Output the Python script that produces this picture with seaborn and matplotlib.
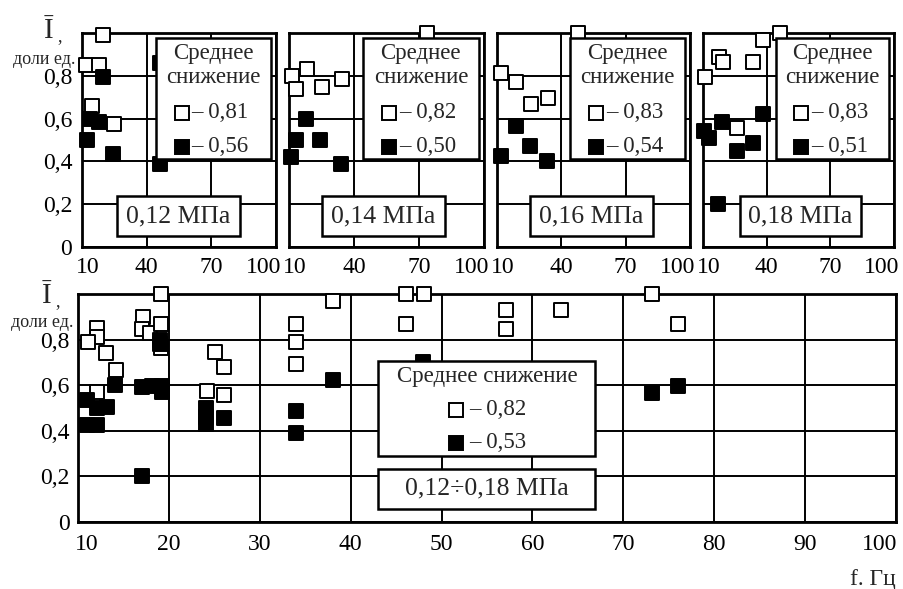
# Снижение Ī в зависимости от частоты f при разных давлениях
import matplotlib.pyplot as plt
import seaborn as sns
from matplotlib.patches import Rectangle
from matplotlib.transforms import ScaledTranslation

sns.set_theme(style="white")
plt.rcParams['font.family'] = ['Liberation Serif', 'DejaVu Serif']

# ---- данные (по панелям) ----
p12_open_x = [19.7, 11.9, 17.9, 14.7, 24.8]
p12_open_y = [0.99, 0.85, 0.85, 0.66, 0.575]
p12_fill_x = [19.6, 13.7, 17.9, 12.3, 24.5, 46.2, 46.2]
p12_fill_y = [0.795, 0.60, 0.585, 0.50, 0.435, 0.39, 0.86]

p14_open_x = [73.5, 11.5, 18.5, 13.2, 25.4, 34.5]
p14_open_y = [1.0, 0.80, 0.83, 0.74, 0.75, 0.785]
p14_fill_x = [17.8, 13.1, 24.3, 10.9, 34.0]
p14_fill_y = [0.60, 0.50, 0.50, 0.42, 0.39]

p16_open_x = [47.9, 11.9, 18.9, 25.7, 33.6]
p16_open_y = [1.0, 0.815, 0.77, 0.67, 0.695]
p16_fill_x = [18.7, 25.4, 11.7, 33.5]
p16_fill_y = [0.565, 0.47, 0.425, 0.40]

p18_open_x = [46.3, 38.4, 17.7, 19.6, 33.7, 10.9, 26.2]
p18_open_y = [1.0, 0.965, 0.89, 0.865, 0.865, 0.795, 0.555]
p18_fill_x = [38.1, 19.1, 10.5, 13.0, 33.7, 25.9, 16.9]
p18_fill_y = [0.62, 0.585, 0.54, 0.51, 0.485, 0.45, 0.20]

all_open_x = [19.1, 17.1, 17.0, 12.1, 12.1, 11.1, 17.9, 19.1, 19.1, 13.1, 14.2, 12.1,
              24.2, 25.1, 26.1, 26.1, 34.0, 34.0, 34.0, 38.1, 46.1, 48.1, 46.1, 57.1,
              57.1, 63.1, 73.2, 76.0]
all_open_y = [1.0, 0.90, 0.845, 0.85, 0.81, 0.79, 0.83, 0.87, 0.765, 0.74, 0.665, 0.57,
              0.575, 0.745, 0.68, 0.555, 0.87, 0.79, 0.695, 0.97, 1.0, 1.0, 0.87, 0.93,
              0.845, 0.93, 1.0, 0.87]
all_fill_x = [19.0, 19.0, 14.1, 17.0, 18.1, 19.2, 19.2, 11.0, 12.1, 13.2, 11.0, 12.1,
              24.1, 24.1, 24.1, 26.1, 34.0, 34.0, 38.1, 17.0, 48.0, 73.2, 76.0]
all_fill_y = [0.80, 0.78, 0.60, 0.59, 0.595, 0.57, 0.595, 0.535, 0.50, 0.505, 0.425, 0.425,
              0.50, 0.46, 0.43, 0.455, 0.485, 0.39, 0.625, 0.20, 0.70, 0.565, 0.596]

pressures = ['0,12 МПа', '0,14 МПа', '0,16 МПа', '0,18 МПа']
mean_open = ['0,81', '0,82', '0,83', '0,83']
mean_fill = ['0,56', '0,50', '0,54', '0,51']
top_sets = [(p12_open_x, p12_open_y, p12_fill_x, p12_fill_y),
            (p14_open_x, p14_open_y, p14_fill_x, p14_fill_y),
            (p16_open_x, p16_open_y, p16_fill_x, p16_fill_y),
            (p18_open_x, p18_open_y, p18_fill_x, p18_fill_y)]
y_ticks = [0, 0.2, 0.4, 0.6, 0.8]
y_labels = ['0', '0,2', '0,4', '0,6', '0,8']

# ---- оформление ----
W, H = 904, 589
fig = plt.figure(figsize=(W / 100, H / 100), dpi=100)


def px_axes(l, t, r, b):
    return fig.add_axes([l / W, 1 - b / H, (r - l) / W, (b - t) / H])


def style(ax, xticks, ypad, xpad):
    ax.set_xlim(10, 100)
    ax.set_ylim(0, 1.0)
    ax.set_xticks(xticks)
    ax.set_xticklabels([str(v) for v in xticks])
    ax.set_yticks(y_ticks)
    ax.grid(True, color='black', lw=1.4)
    ax.set_axisbelow(True)
    for s in ax.spines.values():
        s.set_color('black')
        s.set_linewidth(2)
    ax.tick_params(length=0, labelsize=17, colors='black')
    ax.tick_params(axis='y', pad=ypad)
    ax.tick_params(axis='x', pad=xpad)
    ax.set_xlabel('')
    ax.set_ylabel('')


def shift_end_labels(ax, dx_first, dx_last):
    labs = ax.get_xticklabels()
    labs[0].set_transform(labs[0].get_transform() + ScaledTranslation(dx_first / 100, 0, fig.dpi_scale_trans))
    labs[-1].set_transform(labs[-1].get_transform() + ScaledTranslation(dx_last / 100, 0, fig.dpi_scale_trans))


def points(ax, ox, oy, fx, fy):
    sns.scatterplot(x=ox, y=oy, marker='s', s=100, color='white', edgecolor='black',
                    linewidth=1.4, ax=ax, zorder=3, clip_on=False)
    sns.scatterplot(x=fx, y=fy, marker='s', s=100, color='black', edgecolor='black',
                    linewidth=1.4, ax=ax, zorder=3, clip_on=False)


def box(ax, x0, y0, x1, y1):
    ax.add_patch(Rectangle((x0, y0), x1 - x0, y1 - y0, transform=ax.transAxes,
                           facecolor='white', edgecolor='black', lw=1.8, zorder=4, clip_on=False))


def legend_mark(ax, x, y, filled):
    ax.plot([x], [y], marker='s', ms=9.5, mfc='black' if filled else 'white', mec='black',
            mew=1.4, transform=ax.transAxes, zorder=5, clip_on=False)


top_pos = [(82, 276), (289, 484), (497, 690), (703, 894)]
press_box_x = [0.180, 0.168, 0.173, 0.193]

for i, (l, r) in enumerate(top_pos):
    ax = px_axes(l, 33, r, 247)
    ox, oy, fx, fy = top_sets[i]
    points(ax, ox, oy, fx, fy)
    style(ax, [10, 40, 70, 100], 7, 7)
    if i == 0:
        ax.set_yticklabels(y_labels)
    else:
        ax.set_yticklabels([])
    shift_end_labels(ax, 6, -12)

    # легенда
    box(ax, 0.38, 0.41, 0.972, 0.977)
    ax.text(0.676, 0.905, 'Среднее', transform=ax.transAxes, ha='center', va='center',
            fontsize=16.5, zorder=6)
    ax.text(0.676, 0.790, 'снижение', transform=ax.transAxes, ha='center', va='center',
            fontsize=16.5, zorder=6)
    legend_mark(ax, 0.515, 0.626, False)
    legend_mark(ax, 0.515, 0.467, True)
    ax.text(0.565, 0.630, '– ' + mean_open[i], transform=ax.transAxes, ha='left', va='center',
            fontsize=16.5, zorder=6)
    ax.text(0.565, 0.471, '– ' + mean_fill[i], transform=ax.transAxes, ha='left', va='center',
            fontsize=16.5, zorder=6)

    # давление
    bx = press_box_x[i]
    box(ax, bx, 0.05, bx + 0.634, 0.238)
    ax.text(bx + 0.317, 0.142, pressures[i], transform=ax.transAxes, ha='center', va='center',
            fontsize=18.5, zorder=6)

# нижняя общая панель
axb = px_axes(78, 294, 896, 522)
points(axb, all_open_x, all_open_y, all_fill_x, all_fill_y)
style(axb, list(range(10, 101, 10)), 6, 9)
axb.set_yticklabels(y_labels)
shift_end_labels(axb, 9, -16)

box(axb, 0.367, 0.289, 0.632, 0.706)
axb.text(0.5, 0.636, 'Среднее снижение', transform=axb.transAxes, ha='center', va='center',
         fontsize=16.5, zorder=6)
legend_mark(axb, 0.462, 0.491, False)
legend_mark(axb, 0.462, 0.346, True)
axb.text(0.478, 0.495, '– 0,82', transform=axb.transAxes, ha='left', va='center',
         fontsize=16.5, zorder=6)
axb.text(0.478, 0.350, '– 0,53', transform=axb.transAxes, ha='left', va='center',
         fontsize=16.5, zorder=6)
box(axb, 0.367, 0.057, 0.632, 0.232)
axb.text(0.5, 0.145, '0,12÷0,18 МПа', transform=axb.transAxes, ha='center', va='center',
         fontsize=18.5, zorder=6)

# подписи осей
for (x, y) in [(48, 31), (46, 296)]:
    fig.text(x / W, 1 - y / H, 'Ī', ha='center', va='center', fontsize=21)
    fig.text((x + 12) / W, 1 - (y + 6) / H, ',', ha='center', va='center', fontsize=13)
fig.text(44 / W, 1 - 59 / H, 'доли ед.', ha='center', va='center', fontsize=13)
fig.text(42 / W, 1 - 322 / H, 'доли ед.', ha='center', va='center', fontsize=13)
fig.text(873 / W, 1 - 580 / H, 'f. Гц', ha='center', va='center', fontsize=17)

fig.savefig('out.png', dpi=100, facecolor='white')
